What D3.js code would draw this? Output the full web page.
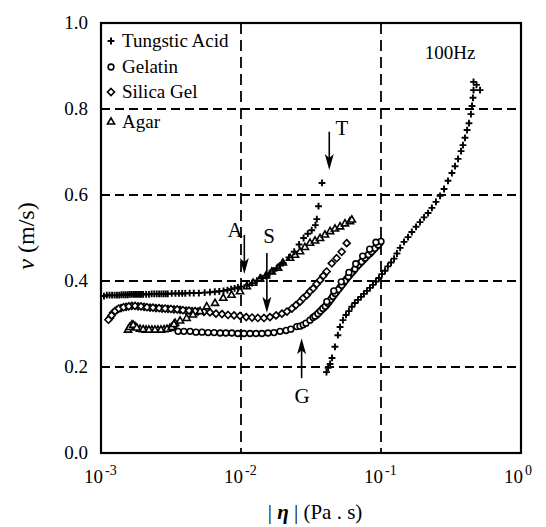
<!DOCTYPE html>
<html>
<head>
<meta charset="utf-8">
<script src="https://cdn.jsdelivr.net/npm/d3@7"></script>
<style>
  body { margin: 0; background: #fff; }
  svg { display: block; }
  svg text { font-family: "Liberation Serif", "Times New Roman", Times, "DejaVu Serif", serif; fill: #000; }
</style>
</head>
<body>
<svg id="chart" width="546" height="527" font-family="Liberation Serif, Times New Roman, serif"></svg>
<script>
// [ |eta| (Pa.s), v (m/s) ]
const tungsticLow = [
  [1.1e-3, 0.367], [1.2e-3, 0.367], [1.3e-3, 0.367], [1.4e-3, 0.368], [1.5e-3, 0.368],
  [1.6e-3, 0.369], [1.7e-3, 0.369], [1.8e-3, 0.369], [1.9e-3, 0.369], [2.0e-3, 0.369],
  [2.2e-3, 0.369], [2.4e-3, 0.370], [2.6e-3, 0.370], [2.8e-3, 0.370], [3.0e-3, 0.370],
  [3.2e-3, 0.371], [3.4e-3, 0.371], [3.6e-3, 0.371], [3.8e-3, 0.371], [4.0e-3, 0.371],
  [4.3e-3, 0.372], [4.6e-3, 0.372], [5.0e-3, 0.372], [5.5e-3, 0.373], [6.0e-3, 0.374],
  [6.5e-3, 0.375], [7.0e-3, 0.376], [7.5e-3, 0.377], [8.0e-3, 0.379], [8.5e-3, 0.381],
  [9.0e-3, 0.383], [9.5e-3, 0.385], [1.0e-2, 0.387], [1.1e-2, 0.390], [1.2e-2, 0.395],
  [1.3e-2, 0.401], [1.4e-2, 0.407], [1.5e-2, 0.412], [1.6e-2, 0.418], [1.7e-2, 0.424],
  [1.8e-2, 0.430], [1.9e-2, 0.436], [2.0e-2, 0.442], [2.2e-2, 0.455], [2.4e-2, 0.468],
  [2.6e-2, 0.485], [2.8e-2, 0.500], [3.0e-2, 0.510], [3.2e-2, 0.518], [3.4e-2, 0.530],
  [3.48e-2, 0.544], [3.58e-2, 0.574], [3.79e-2, 0.628],
  [1.05e-3, 0.365], [1.15e-3, 0.367], [1.25e-3, 0.367], [1.35e-3, 0.367], [1.45e-3, 0.368],
  [1.55e-3, 0.368], [1.65e-3, 0.369], [1.75e-3, 0.369], [1.85e-3, 0.369], [1.95e-3, 0.369],
  [2.1e-3, 0.369], [2.3e-3, 0.370], [2.5e-3, 0.370], [2.7e-3, 0.370], [2.9e-3, 0.370]
];
const tungsticHigh = [
  [4.08e-2, 0.188], [4.19e-2, 0.198], [4.33e-2, 0.207], [4.47e-2, 0.221], [4.69e-2, 0.247],
  [4.92e-2, 0.274], [5.10e-2, 0.293], [5.35e-2, 0.309], [5.62e-2, 0.321], [5.90e-2, 0.330],
  [6.19e-2, 0.340], [6.50e-2, 0.349], [6.85e-2, 0.356], [7.20e-2, 0.363], [7.55e-2, 0.370],
  [7.94e-2, 0.377], [8.34e-2, 0.384], [8.77e-2, 0.391], [9.20e-2, 0.399], [9.67e-2, 0.407],
  [0.1017, 0.416], [0.1068, 0.424], [0.112, 0.434], [0.118, 0.443], [0.124, 0.452],
  [0.130, 0.464], [0.137, 0.477], [0.146, 0.491], [0.156, 0.502], [0.166, 0.514],
  [0.178, 0.526], [0.190, 0.537], [0.203, 0.548], [0.217, 0.558], [0.231, 0.570],
  [0.247, 0.584], [0.264, 0.598], [0.282, 0.614], [0.301, 0.633], [0.321, 0.651],
  [0.338, 0.667], [0.355, 0.684], [0.373, 0.702], [0.385, 0.716], [0.398, 0.733],
  [0.412, 0.751], [0.425, 0.767], [0.439, 0.788], [0.447, 0.807], [0.454, 0.826],
  [0.458, 0.844], [0.458, 0.863], [0.481, 0.856], [0.510, 0.844]
];
const gelatin = [
  [3.55e-3, 0.283], [3.91e-3, 0.283], [4.33e-3, 0.283], [4.77e-3, 0.281], [5.27e-3, 0.281],
  [5.82e-3, 0.280], [6.43e-3, 0.280], [7.10e-3, 0.279], [7.8e-3, 0.279], [8.6e-3, 0.279],
  [9.5e-3, 0.278], [1.05e-2, 0.278], [1.16e-2, 0.278], [1.28e-2, 0.278], [1.41e-2, 0.278],
  [1.56e-2, 0.279], [1.72e-2, 0.280], [1.90e-2, 0.283], [2.10e-2, 0.285], [2.27e-2, 0.288],
  [2.50e-2, 0.294], [2.64e-2, 0.295], [2.78e-2, 0.298], [2.91e-2, 0.302], [3.11e-2, 0.309],
  [3.27e-2, 0.315], [3.47e-2, 0.321], [3.61e-2, 0.327], [3.77e-2, 0.333], [3.91e-2, 0.338],
  [4.09e-2, 0.344], [4.25e-2, 0.351], [4.45e-2, 0.360], [4.61e-2, 0.367], [4.82e-2, 0.375],
  [5.10e-2, 0.385], [5.38e-2, 0.395], [5.69e-2, 0.405], [6.00e-2, 0.414], [6.35e-2, 0.423],
  [6.70e-2, 0.433], [7.08e-2, 0.441], [7.47e-2, 0.449], [7.90e-2, 0.457], [8.35e-2, 0.464],
  [8.80e-2, 0.472], [9.30e-2, 0.480], [9.80e-2, 0.488],
  [3.37e-2, 0.318], [3.54e-2, 0.324], [3.69e-2, 0.330], [3.84e-2, 0.336], [4.00e-2, 0.341],
  [4.17e-2, 0.348], [4.35e-2, 0.356], [4.53e-2, 0.364], [4.71e-2, 0.371], [4.96e-2, 0.380],
  [5.24e-2, 0.390], [5.53e-2, 0.400], [5.84e-2, 0.410], [6.17e-2, 0.419], [6.52e-2, 0.428],
  [6.89e-2, 0.437], [7.27e-2, 0.445], [7.68e-2, 0.453], [8.12e-2, 0.461], [8.57e-2, 0.468],
  [9.05e-2, 0.476], [9.55e-2, 0.484], [1.0e-1, 0.492],
  [4.1e-2, 0.352], [4.6e-2, 0.377], [5.2e-2, 0.398], [5.9e-2, 0.420], [6.6e-2, 0.440],
  [7.4e-2, 0.458], [8.3e-2, 0.474], [9.2e-2, 0.490]
];
const silicaGel = [
  [1.16e-3, 0.314], [1.22e-3, 0.326], [1.30e-3, 0.333], [1.39e-3, 0.337], [1.51e-3, 0.340],
  [1.66e-3, 0.342], [1.84e-3, 0.341], [2.03e-3, 0.340], [2.24e-3, 0.338], [2.47e-3, 0.337],
  [2.73e-3, 0.336], [3.01e-3, 0.335], [3.32e-3, 0.334], [3.67e-3, 0.333], [4.05e-3, 0.331],
  [4.47e-3, 0.330], [4.93e-3, 0.329], [5.44e-3, 0.328], [6.00e-3, 0.327], [6.63e-3, 0.324],
  [7.32e-3, 0.323], [8.08e-3, 0.321], [8.92e-3, 0.320], [9.84e-3, 0.319], [1.09e-2, 0.316],
  [1.20e-2, 0.315], [1.32e-2, 0.314], [1.46e-2, 0.314], [1.61e-2, 0.316], [1.78e-2, 0.320],
  [1.96e-2, 0.324], [2.13e-2, 0.329], [2.31e-2, 0.336], [2.47e-2, 0.344], [2.64e-2, 0.352],
  [2.78e-2, 0.360], [2.95e-2, 0.367], [3.11e-2, 0.376], [3.28e-2, 0.383], [3.47e-2, 0.393],
  [3.67e-2, 0.402], [3.87e-2, 0.412], [4.09e-2, 0.422], [4.45e-2, 0.441], [4.82e-2, 0.453],
  [5.24e-2, 0.468], [5.69e-2, 0.488],
  [1.13e-3, 0.310], [1.19e-3, 0.320], [1.26e-3, 0.330], [1.34e-3, 0.336], [1.45e-3, 0.339],
  [1.58e-3, 0.341], [1.75e-3, 0.342], [1.93e-3, 0.341], [2.13e-3, 0.339], [2.35e-3, 0.338],
  [2.60e-3, 0.337], [2.87e-3, 0.336], [3.16e-3, 0.335], [3.50e-3, 0.334], [3.85e-3, 0.332],
  [4.25e-3, 0.331], [4.70e-3, 0.330]
];
const agar = [
  [1.56e-3, 0.286], [1.66e-3, 0.298], [1.75e-3, 0.294], [1.90e-3, 0.288], [2.10e-3, 0.286],
  [2.31e-3, 0.286], [2.55e-3, 0.286], [2.82e-3, 0.287], [3.11e-3, 0.290], [3.27e-3, 0.295],
  [3.38e-3, 0.302], [3.67e-3, 0.307], [4.09e-3, 0.313], [4.54e-3, 0.321], [5.10e-3, 0.329],
  [5.69e-3, 0.340], [6.52e-3, 0.348], [7.47e-3, 0.360], [8.56e-3, 0.367], [9.84e-3, 0.375],
  [1.10e-2, 0.387], [1.22e-2, 0.395], [1.37e-2, 0.405], [1.51e-2, 0.412], [1.66e-2, 0.421],
  [1.84e-2, 0.430], [1.99e-2, 0.442], [2.24e-2, 0.453], [2.43e-2, 0.460], [2.64e-2, 0.468],
  [2.86e-2, 0.478], [3.11e-2, 0.488], [3.38e-2, 0.493], [3.67e-2, 0.499], [3.98e-2, 0.507],
  [4.33e-2, 0.515], [4.69e-2, 0.521], [5.10e-2, 0.526], [5.53e-2, 0.533], [6.00e-2, 0.538],
  [6.19e-2, 0.542],
  [1.60e-3, 0.292], [1.70e-3, 0.297], [1.80e-3, 0.291], [2.00e-3, 0.287], [2.20e-3, 0.286],
  [2.43e-3, 0.286], [2.68e-3, 0.286], [2.96e-3, 0.288], [3.20e-3, 0.292], [3.32e-3, 0.299]
];

const yTicks = [0, 0.2, 0.4, 0.6, 0.8, 1.0];
const xTicks = [1e-3, 1e-2, 1e-1, 1];
const xTickExp = ['-3', '-2', '-1', '0'];
const yGrid = [0.2, 0.4, 0.6, 0.8];
const xGrid = [1e-2, 1e-1];

const legendItems = [
  {name: 'Tungstic Acid', shape: 'plus'},
  {name: 'Gelatin', shape: 'circle'},
  {name: 'Silica Gel', shape: 'diamond'},
  {name: 'Agar', shape: 'triangle'}
];

// arrow annotations: x, tail v, tip v, label position
const arrows = [
  {label: 'T', x: 4.27e-2, from: 0.747, to: 0.658, lx: 5.26e-2, lv: 0.740},
  {label: 'A', x: 1.056e-2, from: 0.507, to: 0.416, lx: 9.06e-3, lv: 0.502},
  {label: 'S', x: 1.53e-2, from: 0.465, to: 0.326, lx: 1.585e-2, lv: 0.488},
  {label: 'G', x: 2.71e-2, from: 0.174, to: 0.267, lx: 2.73e-2, lv: 0.116}
];
const freqLabel = {text: '100Hz', x: 0.311, v: 0.916};

const width = 546;
const height = 527;
const margin = ({top: 23, right: 25, bottom: 74, left: 101});
const serif = '"Liberation Serif", "Times New Roman", Times, "DejaVu Serif", serif';

const svg = d3.select('#chart');

const xScale = d3.scaleLog()
    .domain([1e-3, 1])
    .range([margin.left, width - margin.right]);

const yScale = d3.scaleLinear()
    .domain([0, 1])
    .range([height - margin.bottom, margin.top]);

// grid
svg.append('g')
    .selectAll('line')
    .data(yGrid)
    .join('line')
    .attr('x1', margin.left)
    .attr('x2', width - margin.right)
    .attr('y1', d => yScale(d))
    .attr('y2', d => yScale(d))
    .attr('stroke', '#000')
    .attr('stroke-width', 1.8)
    .attr('stroke-dasharray', '9,5');

svg.append('g')
    .selectAll('line')
    .data(xGrid)
    .join('line')
    .attr('x1', d => xScale(d))
    .attr('x2', d => xScale(d))
    .attr('y1', margin.top)
    .attr('y2', height - margin.bottom)
    .attr('stroke', '#000')
    .attr('stroke-width', 1.8)
    .attr('stroke-dasharray', '11,6');

// frame
svg.append('rect')
    .attr('x', margin.left)
    .attr('y', margin.top)
    .attr('width', width - margin.left - margin.right)
    .attr('height', height - margin.top - margin.bottom)
    .attr('fill', 'none')
    .attr('stroke', '#000')
    .attr('stroke-width', 2.2);

// tick labels
svg.append('g')
    .selectAll('text')
    .data(yTicks)
    .join('text')
    .attr('x', margin.left - 13)
    .attr('y', d => yScale(d))
    .attr('dy', '0.33em')
    .attr('text-anchor', 'end')
    .style('font-family', serif)
    .style('font-size', '19px')
    .text(d => d.toFixed(1));

const xLab = svg.append('g')
    .selectAll('text')
    .data(xTicks)
    .join('text')
    .attr('x', d => xScale(d) - 17)
    .attr('y', height - margin.bottom + 30)
    .style('font-family', serif)
    .style('font-size', '19px');
xLab.append('tspan').text('10');
xLab.append('tspan')
    .attr('dx', 2)
    .attr('dy', -8)
    .style('font-size', '14px')
    .text((d, i) => xTickExp[i]);

// axis titles
const xTitle = svg.append('text')
    .attr('x', 315)
    .attr('y', height - 8)
    .attr('text-anchor', 'middle')
    .style('font-family', serif)
    .style('font-size', '21px');
xTitle.append('tspan').text('| ');
xTitle.append('tspan').style('font-style', 'italic').style('font-weight', 'bold').text('η');
xTitle.append('tspan').text(' |  (Pa . s)');

const yTitle = svg.append('text')
    .attr('transform', `translate(34, 236) rotate(-90)`)
    .attr('text-anchor', 'middle')
    .style('font-family', serif)
    .style('font-size', '24px');
yTitle.append('tspan').style('font-style', 'italic').text('v');
yTitle.append('tspan').text(' (m/s)');

// markers
const markerPath = {
  plus: 'M-3.4,0H3.4M0,-3.4V3.4',
  circle: d3.symbol(d3.symbolCircle, 26)(),
  diamond: 'M0,-3.5L3.5,0L0,3.5L-3.5,0Z',
  triangle: d3.symbol(d3.symbolTriangle, 22)()
};

const drawSeries = (data, shape) => {
    svg.append('g')
        .selectAll('path')
        .data(data)
        .join('path')
        .attr('transform', d => `translate(${xScale(d[0])},${yScale(d[1])})`)
        .attr('d', markerPath[shape])
        .attr('fill', shape === 'plus' ? 'none' : '#fff')
        .attr('stroke', '#000')
        .attr('stroke-width', shape === 'plus' ? 1.9 : 1.6);
};

drawSeries(gelatin, 'circle');
drawSeries(silicaGel, 'diamond');
drawSeries(agar, 'triangle');
drawSeries(tungsticLow, 'plus');
drawSeries(tungsticHigh, 'plus');

// legend
const legend = svg.append('g')
    .selectAll('g')
    .data(legendItems)
    .join('g')
    .attr('transform', (d, i) => `translate(${margin.left + 10}, ${margin.top + [18, 44, 69, 99][i]})`);
legend.append('path')
    .attr('d', d => markerPath[d.shape])
    .attr('fill', d => d.shape === 'plus' ? 'none' : '#fff')
    .attr('stroke', '#000')
    .attr('stroke-width', d => d.shape === 'plus' ? 2 : 1.6);
legend.append('text')
    .attr('x', 11)
    .attr('dy', '0.33em')
    .style('font-family', serif)
    .style('font-size', '19px')
    .text(d => d.name);

// annotations
const ann = svg.append('g');
arrows.forEach(a => {
    const x = xScale(a.x);
    const y0 = yScale(a.from);
    const y1 = yScale(a.to);
    const dir = y1 > y0 ? 1 : -1;
    ann.append('line')
        .attr('x1', x).attr('x2', x)
        .attr('y1', y0).attr('y2', y1 - dir * 8)
        .attr('stroke', '#000')
        .attr('stroke-width', 1.6);
    ann.append('path')
        .attr('d', `M${x},${y1} L${x - 4.5},${y1 - dir * 16} L${x},${y1 - dir * 12} L${x + 4.5},${y1 - dir * 16} Z`)
        .attr('fill', '#000');
    ann.append('text')
        .attr('x', xScale(a.lx))
        .attr('y', yScale(a.lv))
        .attr('text-anchor', 'middle')
        .style('font-family', serif)
        .style('font-size', '21px')
        .text(a.label);
});

svg.append('text')
    .attr('x', xScale(freqLabel.x))
    .attr('y', yScale(freqLabel.v))
    .attr('text-anchor', 'middle')
    .style('font-family', serif)
    .style('font-size', '19px')
    .text(freqLabel.text);
</script>
</body>
</html>
